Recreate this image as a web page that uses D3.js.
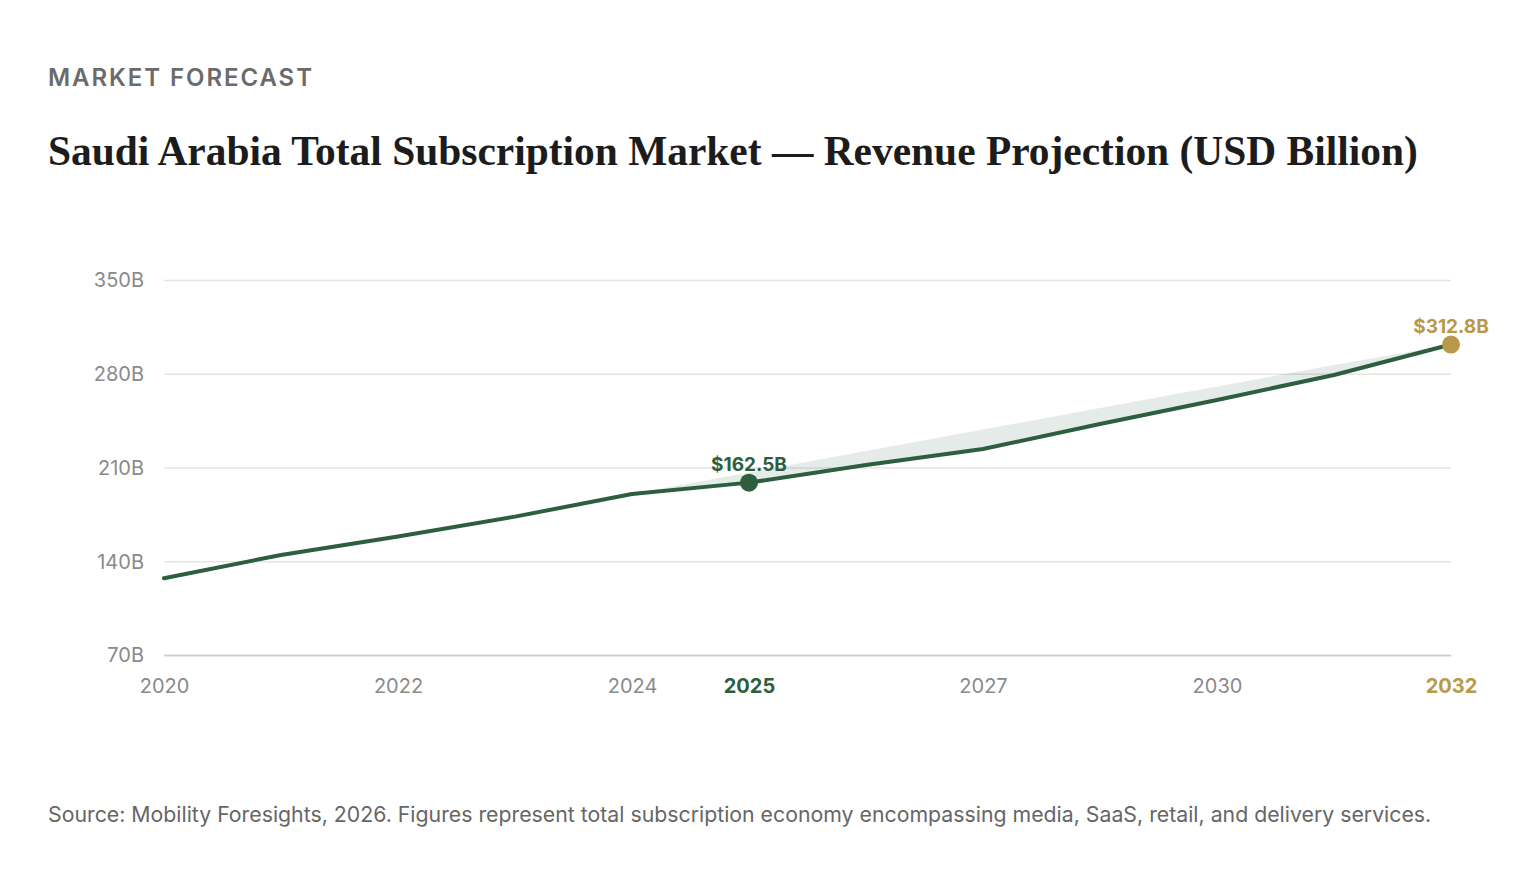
<!DOCTYPE html>
<html>
<head>
<meta charset="utf-8">
<script src="https://cdn.jsdelivr.net/npm/d3@7"></script>
<style>
  html, body { margin: 0; padding: 0; background: #ffffff; }
  svg { display: block; }
</style>
</head>
<body>
<svg id="chart" width="1538" height="876"></svg>
<script>
// ---- Data ----
const years = ["2020","2021","2022","2023","2024","2025","2026","2027","2028","2030","2031","2032"];
const revenue = [127.3, 144.7, 158.5, 173.3, 190.2, 198.7, 211.9, 223.8, 242.5, 260.4, 279.1, 301.8];
const bandYears = ["2024","2025","2026","2027","2028","2030","2031","2032"];
const bandUpper = [190.2, 206.2, 222.3, 238.4, 254.4, 270.4, 286.5, 301.8];
const xTickLabels = ["2020","2022","2024","2025","2027","2030","2032"];
const yTickValues = [70, 140, 210, 280, 350];
const highlights = [
  { year: "2025", label: "$162.5B", color: "#2d5e3e" },
  { year: "2032", label: "$312.8B", color: "#b8994a" }
];
const kicker = "MARKET FORECAST";
const title = "Saudi Arabia Total Subscription Market — Revenue Projection (USD Billion)";
const source = "Source: Mobility Foresights, 2026. Figures represent total subscription economy encompassing media, SaaS, retail, and delivery services.";

// ---- Setup ----
const svg = d3.select("#chart");
const green = "#2d5e3e", gold = "#b8994a";
const sans = "Inter, 'Noto Sans', sans-serif";

const x = d3.scalePoint().domain(years).range([164, 1451]).padding(0);
const y = d3.scaleLinear().domain([70, 350]).range([655, 280]);

function fitWidth(sel, target) {
  const w = sel.node().getComputedTextLength();
  const fs = parseFloat(sel.attr("font-size"));
  sel.attr("font-size", fs * target / w);
}

// Kicker
const k = svg.append("text").attr("x", 48).attr("y", 86)
  .attr("font-family", sans).attr("font-weight", 600).attr("font-size", 24)
  .attr("letter-spacing", 0).attr("fill", "#6b6b6b").text(kicker);
{
  const w0 = k.node().getComputedTextLength();
  k.attr("letter-spacing", (264 - w0) / (kicker.length - 1));
}

// Title
const t = svg.append("text").attr("x", 48).attr("y", 165)
  .attr("font-family", "'Liberation Serif', 'DejaVu Serif', serif").attr("font-weight", 700)
  .attr("font-size", 40).attr("fill", "#1c1c1c").text(title);
fitWidth(t, 1370);

// Gridlines + y axis
const yAxis = svg.append("g").attr("transform", "translate(164,0)")
  .call(d3.axisLeft(y).tickValues(yTickValues).tickFormat(d => d + "B")
    .tickSize(-(1451 - 164)).tickPadding(20));
yAxis.select(".domain").remove();
yAxis.selectAll(".tick line").attr("stroke", "#e8e4df").attr("stroke-width", 1.5);
yAxis.selectAll(".tick").filter(d => d === 70).select("line").attr("stroke", "#cfcfcf").attr("stroke-width", 2);
yAxis.selectAll(".tick text").attr("font-family", sans).attr("font-size", 20)
  .attr("fill", "#8a8a8a").attr("dy", "0.34em");

// X axis
const xAxis = svg.append("g").attr("transform", "translate(0,655)")
  .call(d3.axisBottom(x).tickValues(xTickLabels).tickSize(0).tickPadding(24));
xAxis.select(".domain").remove();
xAxis.selectAll(".tick text").attr("font-family", sans).attr("font-size", 20)
  .attr("fill", "#8a8a8a")
  .each(function(d) {
    const h = highlights.find(o => o.year === d);
    if (h) d3.select(this).attr("fill", h.color).attr("font-weight", 700);
  });

// Band
const bandData = bandYears.map((yr, i) => ({ yr, hi: bandUpper[i], lo: revenue[years.indexOf(yr)] }));
svg.append("path").datum(bandData)
  .attr("d", d3.area().x(d => x(d.yr)).y0(d => y(d.lo)).y1(d => y(d.hi)))
  .attr("fill", "#2d5e3e").attr("fill-opacity", 0.12);

// Line
const lineData = years.map((yr, i) => ({ yr, v: revenue[i] }));
svg.append("path").datum(lineData)
  .attr("d", d3.line().x(d => x(d.yr)).y(d => y(d.v)))
  .attr("fill", "none").attr("stroke", green).attr("stroke-width", 4)
  .attr("stroke-linejoin", "round").attr("stroke-linecap", "round");

// Highlight dots & labels
highlights.forEach(h => {
  const v = revenue[years.indexOf(h.year)];
  svg.append("circle").attr("cx", x(h.year)).attr("cy", y(v)).attr("r", 9).attr("fill", h.color);
  svg.append("text").attr("x", x(h.year)).attr("y", y(v) - 12)
    .attr("text-anchor", "middle").attr("font-family", sans).attr("font-weight", 700)
    .attr("font-size", 19).attr("fill", h.color).text(h.label);
});

// Source
const s = svg.append("text").attr("x", 48).attr("y", 822)
  .attr("font-family", sans).attr("font-size", 19).attr("fill", "#666666").text(source);
fitWidth(s, 1384);
</script>
</body>
</html>
